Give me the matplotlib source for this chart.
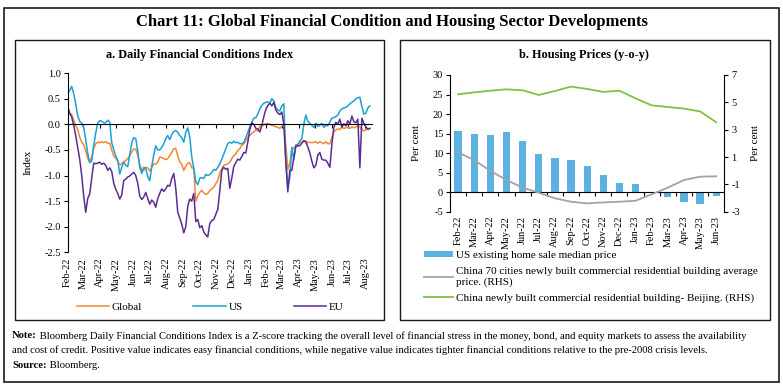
import matplotlib
matplotlib.use('Agg')
import matplotlib.pyplot as plt
import matplotlib.dates as mdates
from matplotlib.patches import Rectangle
from matplotlib.ticker import FormatStrFormatter
import pandas as pd

plt.rcParams['font.family'] = ['Liberation Serif', 'DejaVu Serif']
plt.rcParams['axes.unicode_minus'] = False

# ---- panel a: daily financial conditions index (~every 3.7 days)
global_fci = [
    0.24, 0.21, 0.19, 0.08, -0.03, -0.10, -0.25, -0.35, -0.40, -0.52, -0.66, -0.74, -0.64, -0.46, -0.38, -0.35,
    -0.36, -0.34, -0.36, -0.34, -0.37, -0.37, -0.50, -0.62, -0.66, -0.72, -0.79, -0.77, -0.73, -0.71, -0.67, -0.61,
    -0.54, -0.48, -0.49, -0.60, -0.78, -0.90, -0.90, -0.84, -0.85, -0.91, -0.85, -0.77, -0.78, -0.74,
    -0.64, -0.65, -0.67, -0.69, -0.67, -0.61, -0.55, -0.48, -0.47, -0.62, -0.73, -0.78, -0.90, -0.82, -0.76, -0.75,
    -0.85, -0.86, -1.50, -1.40, -1.33, -1.29, -1.34, -1.37, -1.35, -1.30, -1.26, -1.23, -1.16, -1.10, -0.95, -0.87,
    -0.80, -0.79, -0.77, -0.74, -0.67, -0.61, -0.58, -0.51, -0.48, -0.41, -0.38, -0.32, -0.25, -0.22, -0.18, -0.15,
    -0.11, -0.13,
    -0.04, -0.02, -0.01, 0.01, 0.02, 0.00, -0.02, -0.03, -0.05, -0.06, -0.08, -0.04, -0.02, -0.40, -0.88, -0.76,
    -0.50, -0.46, -0.43, -0.39, -0.36, -0.34, -0.32, -0.32, -0.36, -0.35, -0.36, -0.35, -0.34, -0.37, -0.34, -0.36,
    -0.38, -0.34, -0.38, -0.38, -0.26, -0.15, -0.11, -0.09, -0.10, -0.06, -0.08, -0.07, -0.05, -0.08, -0.05, -0.07,
    -0.05, -0.03, -0.05, -0.10, -0.13, -0.11, -0.09, -0.08,
]
us_fci = [
    0.62, 0.66, 0.74, 0.60, 0.40, 0.16, 0.06, 0.02, -0.06, -0.30, -0.56, -0.75, -0.72, -0.42, -0.17, 0.02,
    0.07, 0.06, 0.03, 0.03, 0.08, 0.04, -0.36, -0.49, -0.62, -0.70, -0.97, -0.84, -0.74, -0.80, -0.83, -0.60,
    -0.36, -0.26, -0.28, -0.52, -0.84, -0.96, -0.84, -0.86, -1.02, -1.10, -0.82, -0.60, -0.42, -0.50,
    -0.50, -0.45, -0.38, -0.28, -0.22, -0.30, -0.20, -0.14, -0.12, -0.16, -0.22, -0.26, -0.35, -0.16, -0.07, -0.25,
    -0.64, -0.86, -1.12, -1.18, -1.05, -1.04, -1.06, -0.98, -1.00, -0.98, -0.94, -0.88, -0.90, -0.84, -0.78, -0.68,
    -0.58, -0.48, -0.38, -0.35, -0.37, -0.33, -0.36, -0.35, -0.38, -0.38, -0.35, -0.26, -0.16, -0.05, 0.04, 0.12,
    0.13, 0.20,
    0.30, 0.37, 0.41, 0.43, 0.44, 0.41, 0.50, 0.46, 0.33, 0.28, 0.26, 0.36, 0.40, -0.70, -1.22, -1.05,
    -0.45, -0.70, -0.40, -0.40, -0.32, -0.28, 0.00, 0.18, 0.06, 0.02, -0.02, -0.06, 0.02, -0.04, -0.02, 0.02,
    -0.06, -0.02, -0.03, 0.04, 0.12, 0.13, 0.15, 0.18, 0.26, 0.30, 0.32, 0.33, 0.36, 0.40, 0.43, 0.46,
    0.50, 0.52, 0.53, 0.35, 0.20, 0.22, 0.32, 0.36,
]
eu_fci = [
    0.35, 0.22, 0.14, -0.02, -0.22, -0.45, -0.68, -1.00, -1.40, -1.72, -1.45, -1.36, -1.05, -0.76, -0.77, -0.76,
    -0.74, -0.78, -0.76, -0.80, -0.90, -0.85, -0.92, -1.15, -1.27, -1.35, -1.46, -1.38, -1.10, -1.07, -1.03, -1.01,
    -0.97, -0.94, -1.00, -1.15, -1.40, -1.47, -1.42, -1.33, -1.45, -1.56, -1.48, -1.52, -1.62, -1.45,
    -1.35, -1.26, -1.31, -1.26, -1.19, -1.21, -1.06, -0.96, -1.25, -1.72, -1.83, -1.95, -2.12, -2.00, -1.60, -1.46,
    -1.50, -1.35, -1.90, -1.86, -2.02, -1.98, -2.10, -2.16, -2.20, -1.94, -1.88, -1.86, -1.76, -1.66, -1.30, -0.90,
    -0.84, -0.88, -0.86, -1.25, -1.05, -0.82, -0.75, -0.68, -0.70, -0.63, -0.55, -0.56, -0.35, -0.10, 0.03, 0.00,
    -0.08, -0.09,
    -0.15, -0.03, 0.15, 0.29, 0.37, 0.41, 0.36, 0.43, 0.28, 0.22, 0.19, 0.24, 0.00, -0.75, -1.32, -0.90,
    -0.90, -0.65, -0.43, -0.42, -0.42, -0.37, -0.32, -0.35, -0.44, -0.56, -0.72, -0.85, -0.80, -0.60, -0.55, -0.68,
    -0.70, -0.70, -0.76, -0.84, -0.40, -0.06, 0.04, 0.00, 0.10, -0.06, 0.01, -0.03, 0.07, 0.00, 0.16, 0.05,
    0.03, 0.10, -0.85, 0.12, 0.02, -0.05, -0.10, -0.08,
]
fci_start, fci_end = '2022-02-01', '2023-08-10'

# ---- panel b: housing prices, y-o-y per cent
house_months = ['Feb-22', 'Mar-22', 'Apr-22', 'May-22', 'Jun-22', 'Jul-22', 'Aug-22', 'Sep-22', 'Oct-22',
                'Nov-22', 'Dec-22', 'Jan-23', 'Feb-23', 'Mar-23', 'Apr-23', 'May-23', 'Jun-23']
us_home_price = [15.6, 14.9, 14.6, 15.4, 13.1, 9.7, 8.7, 8.2, 6.7, 4.4, 2.4, 2.0, -0.2, -1.2, -2.5, -3.1, -1.0]
china_70_cities = [1.34, 0.78, -0.02, -0.68, -1.24, -1.61, -2.02, -2.27, -2.39, -2.32, -2.27, -2.20, -1.73,
                   -1.24, -0.68, -0.44, -0.41]
china_beijing = [5.59, 5.73, 5.85, 5.95, 5.88, 5.54, 5.83, 6.15, 5.98, 5.76, 5.85, 5.29, 4.78, 4.66, 4.54,
                 4.34, 3.54]

W, H = 783, 387
fig = plt.figure(figsize=(W / 100, H / 100), dpi=100)


def px_axes(x0, y0, x1, y1):
    return fig.add_axes([x0 / W, 1 - y1 / H, (x1 - x0) / W, (y1 - y0) / H])


def px_box(x0, y0, x1, y1, lw=1.0):
    fig.patches.append(Rectangle((x0 / W, 1 - y1 / H), (x1 - x0) / W, (y1 - y0) / H,
                                 transform=fig.transFigure, fill=False, lw=lw, ec='#1a1a1a'))


px_box(4, 8, 779, 382, lw=1.2)
px_box(15, 40, 384, 320)
px_box(400, 40, 770, 320)

fig.text(0.5, 1 - 22 / H, 'Chart 11: Global Financial Condition and Housing Sector Developments',
         ha='center', va='center', fontsize=12, weight='bold')
fig.text(199.5 / W, 1 - 55 / H, 'a. Daily Financial Conditions Index', ha='center', va='center',
         fontsize=8.8, weight='bold')
fig.text(583.5 / W, 1 - 55 / H, 'b. Housing Prices (y-o-y)', ha='center', va='center',
         fontsize=8.8, weight='bold')

tick_fs = 7.5

# ---------------- panel a
dates = pd.date_range(fci_start, fci_end, periods=len(us_fci))
x = mdates.date2num(dates)
months = pd.date_range('2022-02-01', '2023-08-01', freq='MS')
mx = mdates.date2num(months)

ax = px_axes(67.7, 73.1, 371.5, 252.3)
l1, = ax.plot(x, global_fci, color='#F58634', lw=1.1, label='Global')
l2, = ax.plot(x, us_fci, color='#1BA1D4', lw=1.1, label='US')
l3, = ax.plot(x, eu_fci, color='#5C2D91', lw=1.1, label='EU')
ax.set_xlim(mdates.date2num(pd.Timestamp('2022-02-01')), mdates.date2num(pd.Timestamp('2023-08-13')))
ax.set_ylim(-2.5, 1.0)
ax.set_yticks([1.0, 0.5, 0.0, -0.5, -1.0, -1.5, -2.0, -2.5])
ax.yaxis.set_major_formatter(FormatStrFormatter('%.1f'))
for s in ['top', 'right']:
    ax.spines[s].set_visible(False)
ax.spines['bottom'].set_position(('data', 0))
for s in ['left', 'bottom']:
    ax.spines[s].set_linewidth(0.8)
ax.set_xticks(mx)
ax.tick_params(axis='x', direction='out', length=3, width=0.8, labelbottom=False)
ax.tick_params(axis='y', direction='out', length=3, width=0.8, labelsize=tick_fs, pad=2)
ax.set_ylabel('Index', fontsize=8)
ax.yaxis.set_label_coords(-0.115, 0.5)
sec = ax.secondary_xaxis('bottom')
sec.set_xticks(mx)
sec.set_xticklabels([m.strftime('%b-%y') for m in months], rotation=90, fontsize=tick_fs)
sec.tick_params(length=0, pad=4)
sec.spines['bottom'].set_visible(False)

fig.legend(handles=[l1, l2, l3], loc='center left', bbox_to_anchor=(77 / W, 1 - 307 / H), ncol=3,
           frameon=False, fontsize=8, handlelength=2.9, handletextpad=0.25, columnspacing=4.6,
           borderpad=0, borderaxespad=0)

# ---------------- panel b
pos = list(range(len(house_months)))
bx = px_axes(450, 75, 724.3, 211.7)
bars = bx.bar(pos, us_home_price, width=0.45, color='#5BB1E0', label='US existing home sale median price')
bx.set_xlim(-0.5, len(house_months) - 0.5)
bx.set_ylim(-5, 30)
bx.set_yticks(range(-5, 31, 5))
for s in ['top', 'right']:
    bx.spines[s].set_visible(False)
bx.spines['bottom'].set_position(('data', 0))
for s in ['left', 'bottom']:
    bx.spines[s].set_linewidth(0.8)
bx.set_xticks(pos)
bx.set_xticks([p + 0.5 for p in pos[:-1]], minor=True)
bx.tick_params(axis='x', which='major', length=0, labelbottom=False)
bx.tick_params(axis='x', which='minor', direction='out', length=3, width=0.8)
bx.tick_params(axis='y', direction='out', length=3, width=0.8, labelsize=tick_fs, pad=2)
bx.set_ylabel('Per cent', fontsize=8)
bx.yaxis.set_label_coords(-0.105, 0.5)
bsec = bx.secondary_xaxis('bottom')
bsec.set_xticks(pos)
bsec.set_xticklabels(house_months, rotation=90, fontsize=tick_fs)
bsec.tick_params(length=0, pad=3)
bsec.spines['bottom'].set_visible(False)

bx2 = bx.twinx()
g1, = bx2.plot(pos, china_70_cities, color='#A3A3A3', lw=1.3,
               label='China 70 cities newly built commercial residential building average\nprice. (RHS)')
g2, = bx2.plot(pos, china_beijing, color='#7DC242', lw=1.3,
               label='China newly built commercial residential building- Beijing. (RHS)')
bx2.set_ylim(-3, 7)
bx2.set_yticks(range(-3, 8, 2))
for s in ['top', 'left', 'bottom']:
    bx2.spines[s].set_visible(False)
bx2.spines['right'].set_linewidth(0.8)
bx2.tick_params(axis='y', direction='out', length=3, width=0.8, labelsize=tick_fs, pad=2)
bx2.set_ylabel('Per cent', fontsize=8, rotation=90)
bx2.yaxis.set_label_coords(1.097, 0.5)

fig.legend(handles=[bars, g1, g2], loc='upper left', bbox_to_anchor=(424 / W, 1 - 251 / H),
           frameon=False, fontsize=8, handlelength=2.6, handleheight=0.4, handletextpad=0.3,
           labelspacing=0.6, borderpad=0, borderaxespad=0)

# ---------------- note
note_fs = 7.7
r = fig.canvas.get_renderer()
lines = [
    ('Note:', ' Bloomberg Daily Financial Conditions Index is a Z-score tracking the overall level of financial '
              'stress in the money, bond, and equity markets to assess the availability'),
    ('', 'and cost of credit. Positive value indicates easy financial conditions, while negative value indicates '
         'tighter financial conditions relative to the pre-2008 crisis levels.'),
    ('Source:', ' Bloomberg.'),
]
for i, (head, body) in enumerate(lines):
    yy = 1 - (336 + 14.5 * i) / H
    x0 = 12 / W
    if head:
        t = fig.text(x0, yy, head, fontsize=note_fs, weight='bold', va='center')
        x0 = t.get_window_extent(r).x1 / fig.bbox.width
    fig.text(x0, yy, body, fontsize=note_fs, va='center')

fig.savefig('out.png', dpi=100)
